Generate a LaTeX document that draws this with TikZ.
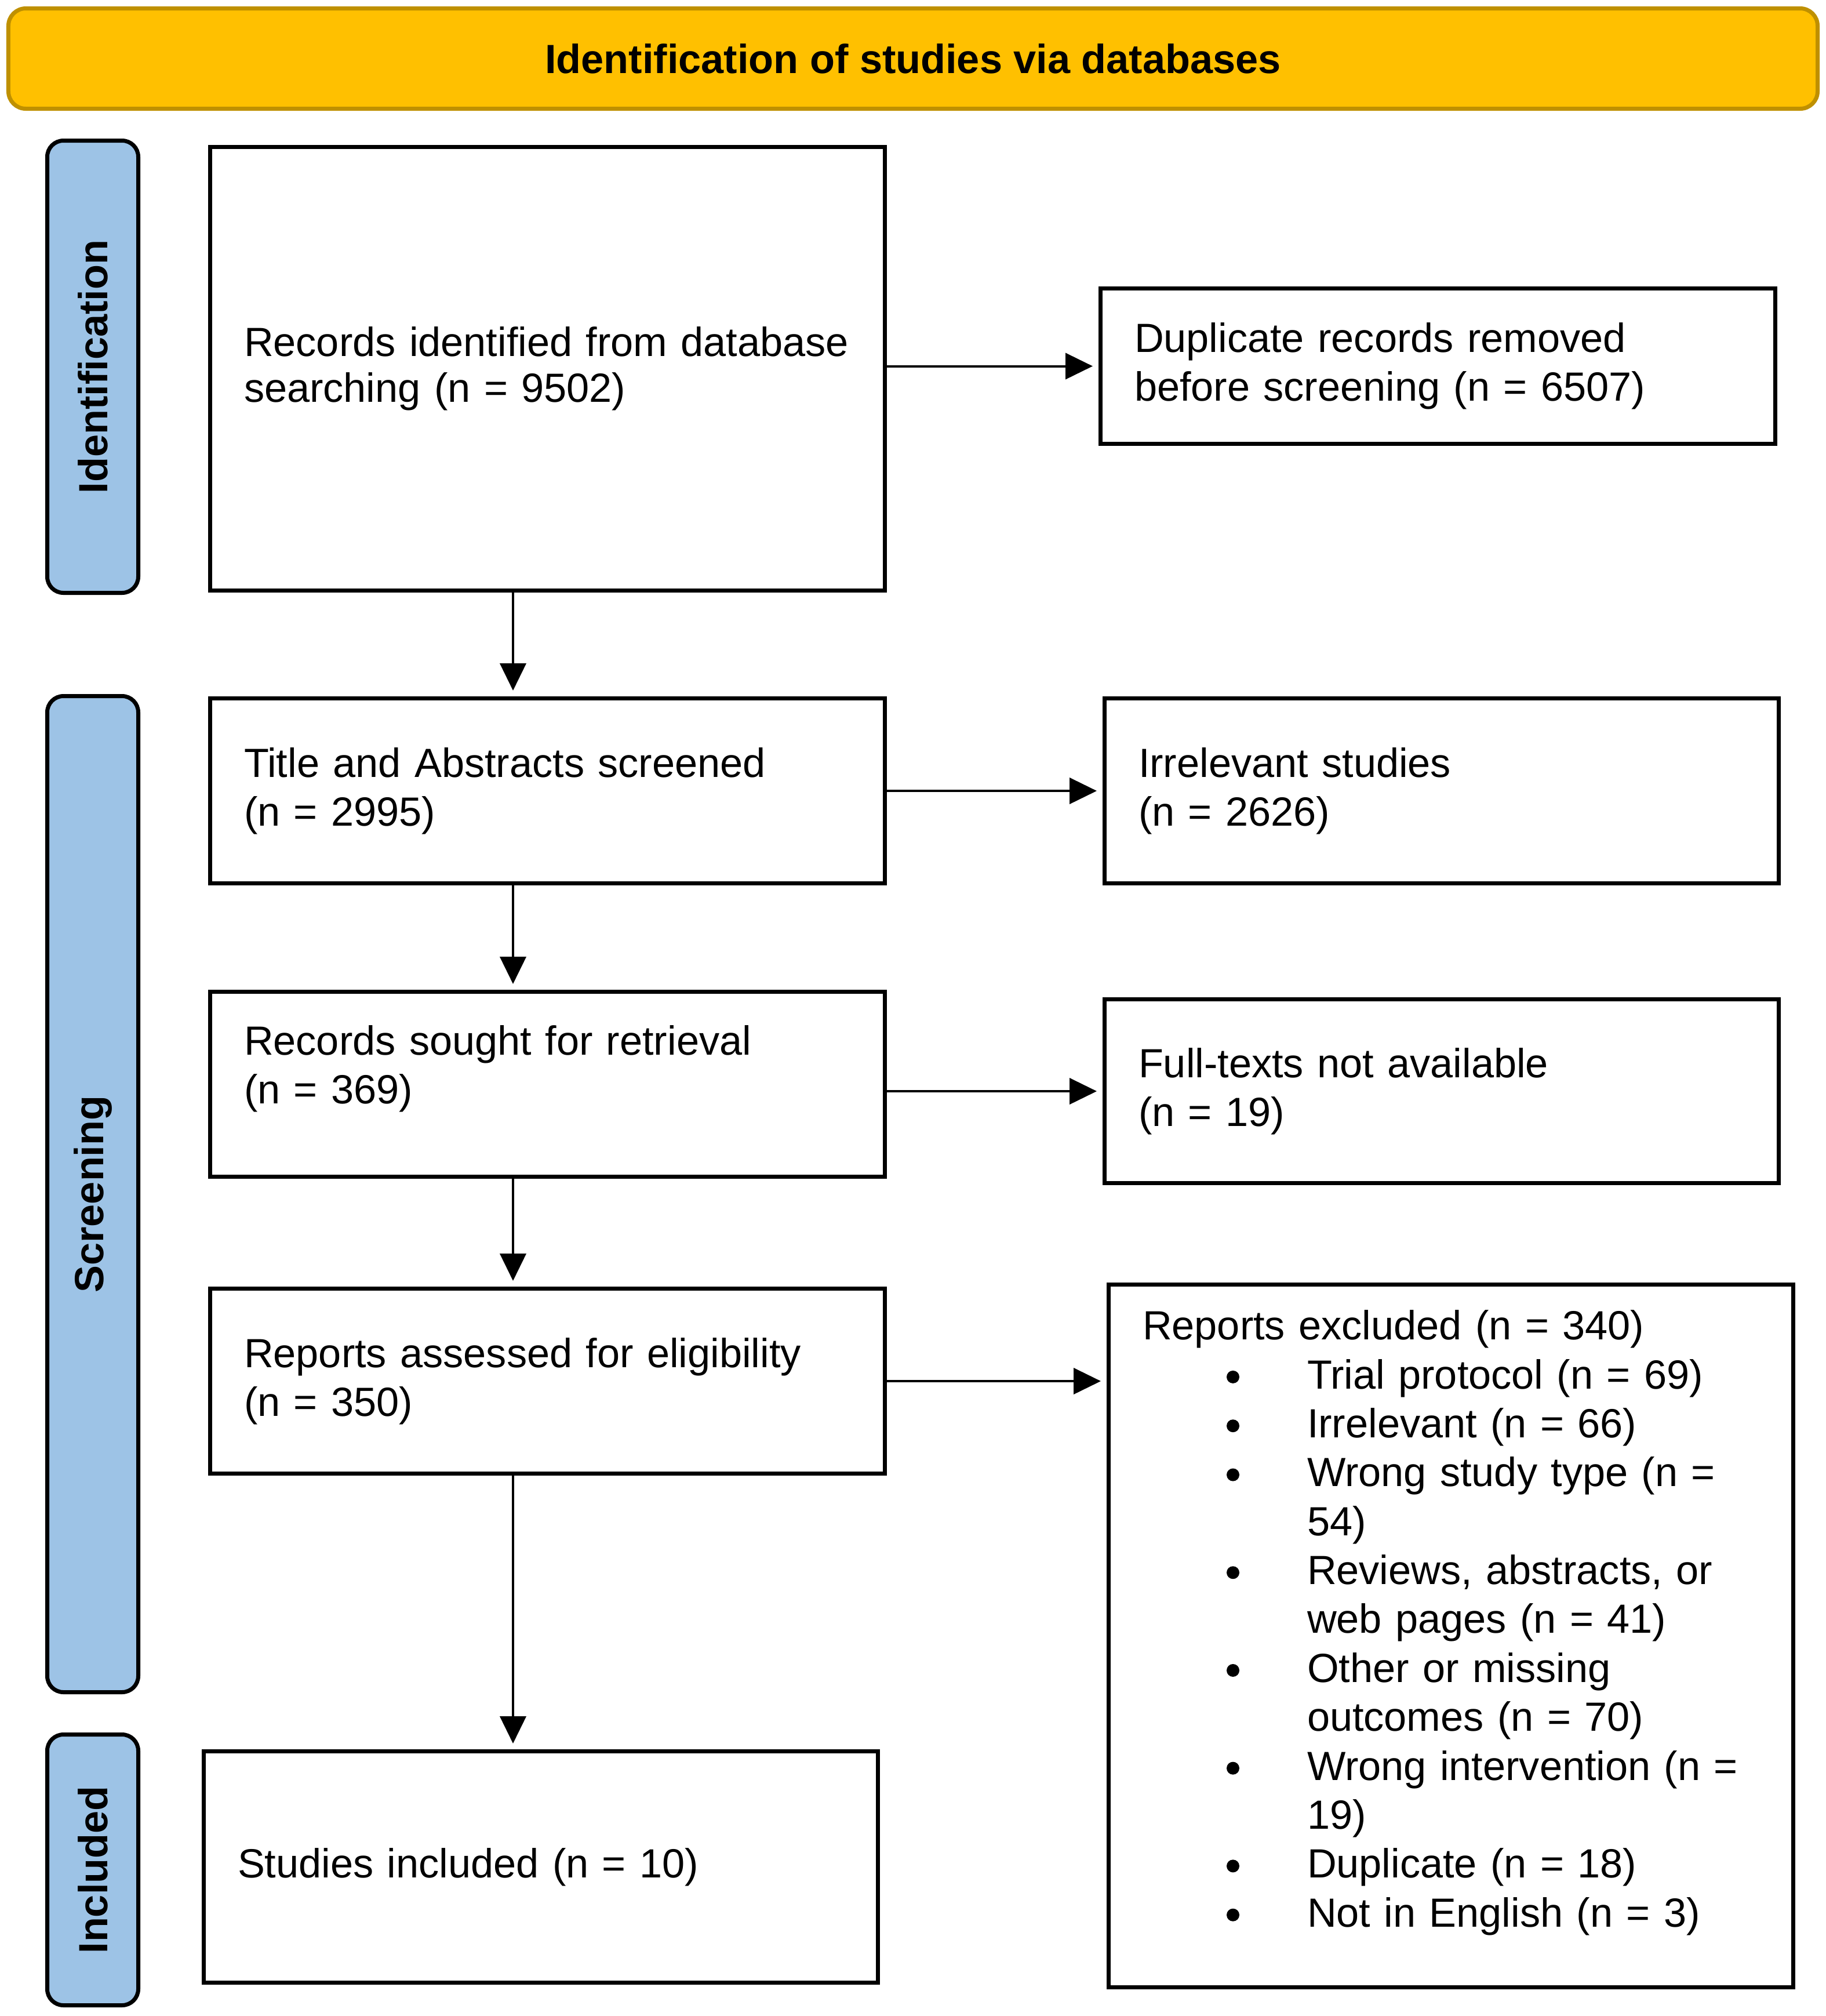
\documentclass[tikz,border=0pt]{standalone}
\usepackage{fontspec}
\setmainfont{Liberation Sans}
\usetikzlibrary{arrows.meta}
\definecolor{gold}{HTML}{FFC000}
\definecolor{golddark}{HTML}{BF9000}
\definecolor{phase}{HTML}{9DC3E6}
\newcommand\exdot{\tikz[baseline=0pt]\fill (0.11cm,5.8pt) circle[radius=0.11cm];}
\newcommand\exbul{\hspace*{1.45cm}\makebox[1.39cm][l]{\exdot}}
\newcommand\excont{\hspace*{2.84cm}}
\begin{document}
\begin{tikzpicture}[x=1cm,y=-1cm,
  every node/.style={font=\fontsize{20}{24}\selectfont},
  box/.style={draw, line width=0.07cm, rectangle, inner xsep=0.585cm, inner ysep=0.1cm, align=left},
  phasebox/.style={draw, line width=0.07cm, fill=phase, rounded corners=0.28cm, minimum height=1.57cm, font=\fontsize{20}{24}\selectfont\bfseries},
  arr/.style={line width=0.04cm, -{Triangle[length=0.47cm,width=0.45cm]}, shorten >=0.1cm}]
\useasboundingbox (0,0) rectangle (31.5,34.77);

\node[draw=golddark, fill=gold, line width=0.07cm, rounded corners=0.3cm, minimum width=31.21cm, minimum height=1.73cm, font=\fontsize{20}{24}\selectfont\bfseries] (banner) at (15.75,1.01) {Identification of studies via databases};

\node[phasebox, rotate=90, minimum width=7.80cm] (pid) at (1.60,6.325) {Identification};
\node[phasebox, rotate=90, minimum width=17.18cm] (pscr) at (1.60,20.595) {Screening};
\node[phasebox, rotate=90, minimum width=4.67cm] (pinc) at (1.60,32.25) {Included};

\node[box, minimum width=11.64cm, minimum height=7.65cm, text width=10.47cm, font=\fontsize{20}{22.5}\selectfont] (rec) at (9.445,6.36) {Records identified from database\\searching (n = 9502)};
\node[box, minimum width=11.64cm, minimum height=2.68cm, text width=10.47cm] (dup) at (24.805,6.315) {Duplicate records removed\\before screening (n = 6507)};
\node[box, minimum width=11.64cm, minimum height=3.19cm, text width=10.47cm] (title) at (9.445,13.64) {Title and Abstracts screened\\(n = 2995)};
\node[box, minimum width=11.63cm, minimum height=3.19cm, text width=10.46cm] (irr) at (24.87,13.64) {Irrelevant studies\\(n = 2626)};
\node[box, minimum width=11.64cm, minimum height=3.19cm, text width=10.47cm] (sought) at (9.445,18.70) {Records sought for retrieval\\(n = 369)\rule[-0.68cm]{0pt}{0.68cm}};
\node[box, minimum width=11.63cm, minimum height=3.17cm, text width=10.46cm] (full) at (24.87,18.82) {Full-texts not available\\(n = 19)};
\node[box, minimum width=11.64cm, minimum height=3.19cm, text width=10.47cm] (assessed) at (9.445,23.82) {Reports assessed for eligibility\\(n = 350)};
\node[box, minimum width=11.81cm, minimum height=12.12cm, text width=10.64cm] (excl) at (25.03,28.215) {Reports excluded (n = 340)\\
\exbul Trial protocol (n = 69)\\
\exbul Irrelevant (n = 66)\\
\exbul Wrong study type (n =\\
\excont 54)\\
\exbul Reviews, abstracts, or\\
\excont web pages (n = 41)\\
\exbul Other or missing\\
\excont outcomes (n = 70)\\
\exbul Wrong intervention (n =\\
\excont 19)\\
\exbul Duplicate (n = 18)\\
\exbul Not in English (n = 3)\rule[-0.6cm]{0pt}{0.6cm}};
\node[box, minimum width=11.63cm, minimum height=3.99cm, text width=10.46cm] (incl) at (9.33,32.20) {Studies included (n = 10)};

\coordinate (spine) at (8.85,0);
\draw[arr] (rec.east |- dup.west) -- (dup.west);
\draw[arr] (spine |- rec.south) -- (spine |- title.north);
\draw[arr] (title.east) -- (irr.west);
\draw[arr] (spine |- title.south) -- (spine |- sought.north);
\draw[arr] (sought.east |- full.west) -- (full.west);
\draw[arr] (spine |- sought.south) -- (spine |- assessed.north);
\draw[arr] (assessed.east) -- (assessed.east -| excl.west);
\draw[arr] (spine |- assessed.south) -- (spine |- incl.north);
\end{tikzpicture}
\end{document}
